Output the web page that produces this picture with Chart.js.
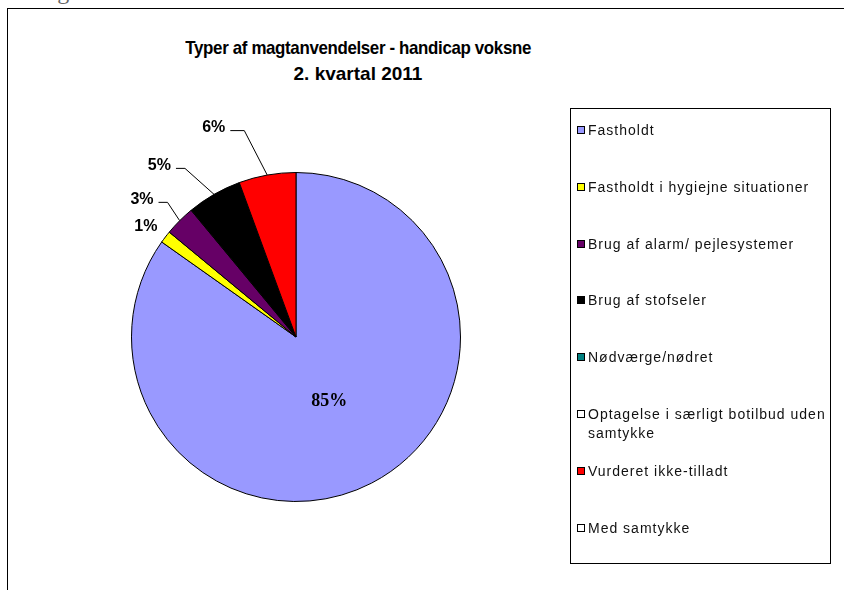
<!DOCTYPE html>
<html lang="da">
<head>
  <meta charset="UTF-8" />
  <title>Typer af magtanvendelser</title>
  <script src="https://cdn.jsdelivr.net/npm/chart.js"></script>
  <style>
    html, body {
      margin: 0;
      padding: 0;
      background: #fff;
      width: 844px;
      height: 590px;
      overflow: hidden;
      font-family: "Liberation Sans", Arial, sans-serif;
    }
    #cut {
      position: absolute;
      left: 28px;
      top: -22px;
      font-family: "Liberation Serif", "Times New Roman", serif;
      font-size: 24px;
      color: #666;
    }
    #frame {
      position: absolute;
      left: 7px;
      top: 8px;
      width: 900px;
      height: 700px;
      border: 1px solid #000;
    }
    #title {
      position: absolute;
      left: 108px;
      width: 500px;
      top: 35px;
      text-align: center;
      font-weight: bold;
      font-size: 19px;
      line-height: 26px;
      white-space: nowrap;
    }
    #title .l1 {
      display: inline-block;
      letter-spacing: -0.4px;
      transform: scaleX(0.89);
    }
    #wrap {
      position: absolute;
      left: 0;
      top: 0;
      width: 844px;
      height: 590px;
    }
    #legend {
      position: absolute;
      left: 570px;
      top: 108px;
      width: 261px;
      height: 456px;
      border: 1px solid #000;
      box-sizing: border-box;
      padding: 12px 0 0 6px;
      font-size: 14px;
      letter-spacing: 1px;
      color: #111;
    }
    .item {
      display: flex;
      align-items: flex-start;
      height: 56.8px;
      line-height: 19px;
    }
    .box {
      width: 6px;
      height: 6px;
      border: 1.5px solid #000;
      margin: 5px 3px 0 0;
      flex: none;
    }
    .txt { width: 244px; }
  </style>
</head>
<body>
  <div id="cut">magtanvendelser</div>
  <div id="frame"></div>
  <div id="title"><span class="l1">Typer af magtanvendelser - handicap voksne</span><br>2. kvartal 2011</div>
  <div id="wrap"><canvas id="pie" width="844" height="590"></canvas></div>
  <div id="legend"></div>

  <script>
    const categories = [
      'Fastholdt',
      'Fastholdt i hygiejne situationer',
      'Brug af alarm/ pejlesystemer',
      'Brug af stofseler',
      ' Nødværge/nødret',
      'Optagelse i særligt botilbud uden samtykke',
      'Vurderet ikke-tilladt',
      'Med samtykke'
    ];
    const shares = [84.8, 1.2, 3.0, 5.4, 0, 0, 5.6, 0];
    const colors = ['#9999FF', '#FFFF00', '#660066', '#000000', '#008080', '#FFFFFF', '#FF0000', '#FFFFFF'];

    // legend built by hand, the Excel one has a frame and wide spacing
    const legend = document.getElementById('legend');
    categories.forEach((c, i) => {
      const row = document.createElement('div');
      row.className = 'item';
      row.innerHTML = '<span class="box" style="background:' + colors[i] + '"></span><span class="txt"></span>';
      row.querySelector('.txt').textContent = c;
      legend.appendChild(row);
    });

    // leader line length / turn per slice (0 = label without leader)
    const leaders = [0, 0, 22, 39, 0, 0, 50, 0];
    const turns = [0, 0, 0.2, -0.32, 0, 0, -0.3, 0];
    const tails = [0, 0, 9, 9, 0, 0, 14, 0];

    const labelPlugin = {
      id: 'sliceLabels',
      afterDatasetsDraw(chart) {
        const ctx = chart.ctx;
        const meta = chart.getDatasetMeta(0);
        ctx.save();
        ctx.fillStyle = '#000';
        ctx.strokeStyle = '#000';
        ctx.lineWidth = 1;
        meta.data.forEach((arc, i) => {
          const v = shares[i];
          if (!v) return;
          const mid = (arc.startAngle + arc.endAngle) / 2;
          const r = arc.outerRadius;
          const txt = Math.round(v) + '%';
          if (i === 0) {
            ctx.font = 'bold 18px "Liberation Serif", serif';
            ctx.textAlign = 'center';
            ctx.textBaseline = 'middle';
            ctx.fillText(txt, arc.x + Math.cos(mid) * r * 0.44, arc.y + Math.sin(mid) * r * 0.44);
            return;
          }
          ctx.font = 'bold 16px "Liberation Sans", Arial, sans-serif';
          ctx.textAlign = 'right';
          ctx.textBaseline = 'middle';
          const rx = arc.x + Math.cos(mid) * r;
          const ry = arc.y + Math.sin(mid) * r;
          const len = leaders[i];
          if (!len) {
            ctx.fillText(txt, rx - 8, ry - 10);
            return;
          }
          const a = mid + turns[i];
          const ex = rx + Math.cos(a) * len;
          const ey = ry + Math.sin(a) * len;
          ctx.beginPath();
          ctx.moveTo(rx, ry);
          ctx.lineTo(ex, ey);
          ctx.lineTo(ex - tails[i], ey);
          ctx.stroke();
          ctx.fillText(txt, ex - tails[i] - 5, ey - 3);
        });
        ctx.restore();
      }
    };

    new Chart(document.getElementById('pie'), {
      type: 'pie',
      data: {
        labels: categories,
        datasets: [{
          data: shares,
          backgroundColor: colors,
          borderColor: '#000',
          borderWidth: 1
        }]
      },
      options: {
        responsive: false,
        animation: false,
        layout: { padding: { left: 131, right: 383, top: 172, bottom: 88 } },
        plugins: {
          legend: { display: false },
          tooltip: { enabled: false }
        }
      },
      plugins: [labelPlugin]
    });
  </script>
</body>
</html>
